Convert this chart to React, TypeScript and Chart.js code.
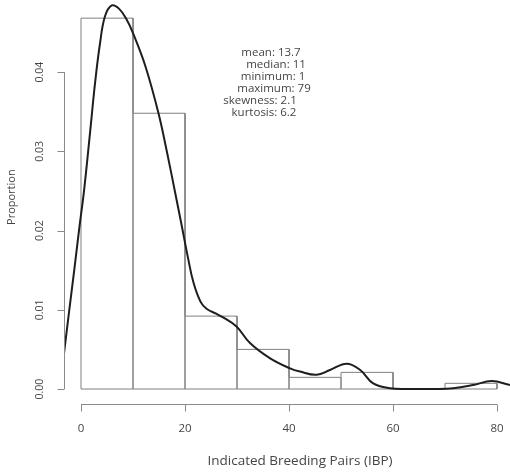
import React, { useEffect, useRef } from "react";
import { Chart, registerables } from "chart.js";

Chart.register(...registerables);

// ---- data ----
const BIN_EDGES = [0, 10, 20, 30, 40, 50, 60, 70, 80];
const PROPORTION = [0.0468, 0.0348, 0.0092, 0.0050, 0.00147, 0.0021, 0, 0.00072];

const DENSITY_X = [
  -3.27, -2.25, -1.3, -0.33, 0.58, 1.73, 2.7, 3.65, 4.6, 5.9, 7.3, 8.8, 10.0, 12.4, 14.9,
  16.5, 18.1, 19.4, 20.5, 21.6, 23, 24.2, 26, 27.4, 29.9, 32.5, 36.3, 40.2, 42.1, 45.3,
  47.9, 51.1, 53.7, 56.2, 59.4, 63, 68, 71.6, 75.4, 79, 82.5,
];
const DENSITY_Y = [
  0.0045, 0.0100, 0.0150, 0.0203, 0.0250, 0.0323, 0.0386, 0.0436, 0.0470, 0.0484, 0.0480,
  0.0466, 0.0449, 0.0407, 0.0348, 0.0300, 0.0248, 0.0205, 0.0168, 0.0135, 0.0110, 0.0101,
  0.0095, 0.0090, 0.0079, 0.0058, 0.0039, 0.0026, 0.0022, 0.0018, 0.0024, 0.0032, 0.0024,
  0.0007, 0.0001, 0.0, 0.0, 0.0001, 0.0005, 0.0010, 0.0005,
];

const X_TICKS = [0, 20, 40, 60, 80];
const X_TICK_LABELS = ["0", "20", "40", "60", "80"];
const Y_TICKS = [0, 0.01, 0.02, 0.03, 0.04];
const Y_TICK_LABELS = ["0.00", "0.01", "0.02", "0.03", "0.04"];

const X_TITLE = "Indicated Breeding Pairs (IBP)";
const Y_TITLE = "Proportion";
const STATS = [
  "mean: 13.7",
  "median: 11",
  "minimum: 1",
  "maximum: 79",
  "skewness: 2.1",
  "kurtosis: 6.2",
];

// ---- layout / style ----
const W = 510;
const H = 472;
const FONT = "'Open Sans', 'Noto Sans', sans-serif";
const AXIS_COLOR = "#8a8a8a";
const TEXT_COLOR = "#454545";
const BAR_COLOR = "#808080";
const STATS_CX = [271, 276, 273, 274, 260, 264];
const STATS_Y0 = 52.5;
const STATS_DY = 12;

const rAxesPlugin = {
  id: "rAxes",
  afterDraw(chart: any) {
    const ctx = chart.ctx as CanvasRenderingContext2D;
    const xs = chart.scales.x;
    const ys = chart.scales.y;
    const area = chart.chartArea;
    ctx.save();
    ctx.strokeStyle = AXIS_COLOR;
    ctx.lineWidth = 1;
    ctx.fillStyle = TEXT_COLOR;

    // x axis
    const xAxisY = Math.round(area.bottom) + 0.5;
    const x0 = xs.getPixelForValue(X_TICKS[0]);
    const x1 = xs.getPixelForValue(X_TICKS[X_TICKS.length - 1]);
    ctx.beginPath();
    ctx.moveTo(x0, xAxisY);
    ctx.lineTo(x1, xAxisY);
    X_TICKS.forEach((v) => {
      const px = Math.round(xs.getPixelForValue(v)) + 0.5;
      ctx.moveTo(px, xAxisY);
      ctx.lineTo(px, xAxisY + 7);
    });
    ctx.stroke();
    ctx.font = `11.5px ${FONT}`;
    ctx.textAlign = "center";
    ctx.textBaseline = "middle";
    X_TICKS.forEach((v, i) => {
      ctx.fillText(X_TICK_LABELS[i], xs.getPixelForValue(v), xAxisY + 24);
    });
    ctx.font = `13.5px ${FONT}`;
    ctx.fillText(X_TITLE, 300, xAxisY + 57);

    // y axis
    const yAxisX = Math.round(area.left) + 0.5;
    const yb = ys.getPixelForValue(Y_TICKS[0]);
    const yt = ys.getPixelForValue(Y_TICKS[Y_TICKS.length - 1]);
    ctx.beginPath();
    ctx.moveTo(yAxisX, yb);
    ctx.lineTo(yAxisX, yt);
    Y_TICKS.forEach((v) => {
      const py = Math.round(ys.getPixelForValue(v)) + 0.5;
      ctx.moveTo(yAxisX, py);
      ctx.lineTo(yAxisX - 7, py);
    });
    ctx.stroke();
    ctx.font = `10.5px ${FONT}`;
    Y_TICKS.forEach((v, i) => {
      ctx.save();
      ctx.translate(yAxisX - 24, ys.getPixelForValue(v));
      ctx.rotate(-Math.PI / 2);
      ctx.fillText(Y_TICK_LABELS[i], 0, 0);
      ctx.restore();
    });
    ctx.save();
    ctx.font = `11px ${FONT}`;
    ctx.translate(12, (area.top + area.bottom) / 2 - 5);
    ctx.rotate(-Math.PI / 2);
    ctx.fillText(Y_TITLE, 0, 0);
    ctx.restore();

    // stats block
    ctx.font = `11.5px ${FONT}`;
    STATS.forEach((s, i) => {
      ctx.fillText(s, STATS_CX[i], STATS_Y0 + i * STATS_DY);
    });
    ctx.restore();
  },
};

export default function App() {
  const canvasRef = useRef<HTMLCanvasElement | null>(null);

  useEffect(() => {
    if (!canvasRef.current) return;
    // histogram outline: each bin drawn as a rectangle from the baseline
    const histogram: { x: number; y: number }[] = [];
    PROPORTION.forEach((p, i) => {
      const a = BIN_EDGES[i];
      const b = BIN_EDGES[i + 1];
      histogram.push({ x: a, y: 0 }, { x: a, y: p }, { x: b, y: p }, { x: b, y: 0 });
    });
    histogram.push({ x: BIN_EDGES[0], y: 0 });
    const density = DENSITY_X.map((x, i) => ({ x, y: DENSITY_Y[i] }));

    const chart = new Chart(canvasRef.current, {
      type: "line",
      data: {
        datasets: [
          {
            label: "density",
            data: density,
            borderColor: "#1e1e1e",
            borderWidth: 2,
            pointRadius: 0,
            fill: false,
            tension: 0.4,
            order: 0,
          } as any,
          {
            label: "proportion",
            data: histogram,
            borderColor: BAR_COLOR,
            borderWidth: 1,
            pointRadius: 0,
            fill: false,
            tension: 0,
            order: 1,
          } as any,
        ],
      },
      options: {
        responsive: false,
        animation: false,
        devicePixelRatio: 1,
        layout: { padding: { left: 64, right: 0, top: 0, bottom: 67.7 } },
        plugins: {
          legend: { display: false },
          tooltip: { enabled: false },
        },
        scales: {
          x: { type: "linear", min: -3.27, max: 82.5, display: false },
          y: { type: "linear", min: -0.00193, max: 0.04909, display: false },
        },
      } as any,
      plugins: [rAxesPlugin],
    });
    return () => chart.destroy();
  }, []);

  return (
    <div style={{ position: "absolute", left: 0, top: 0, width: W, height: H, background: "#fff" }}>
      <canvas ref={canvasRef} width={W} height={H} style={{ width: W, height: H }} />
    </div>
  );
}
